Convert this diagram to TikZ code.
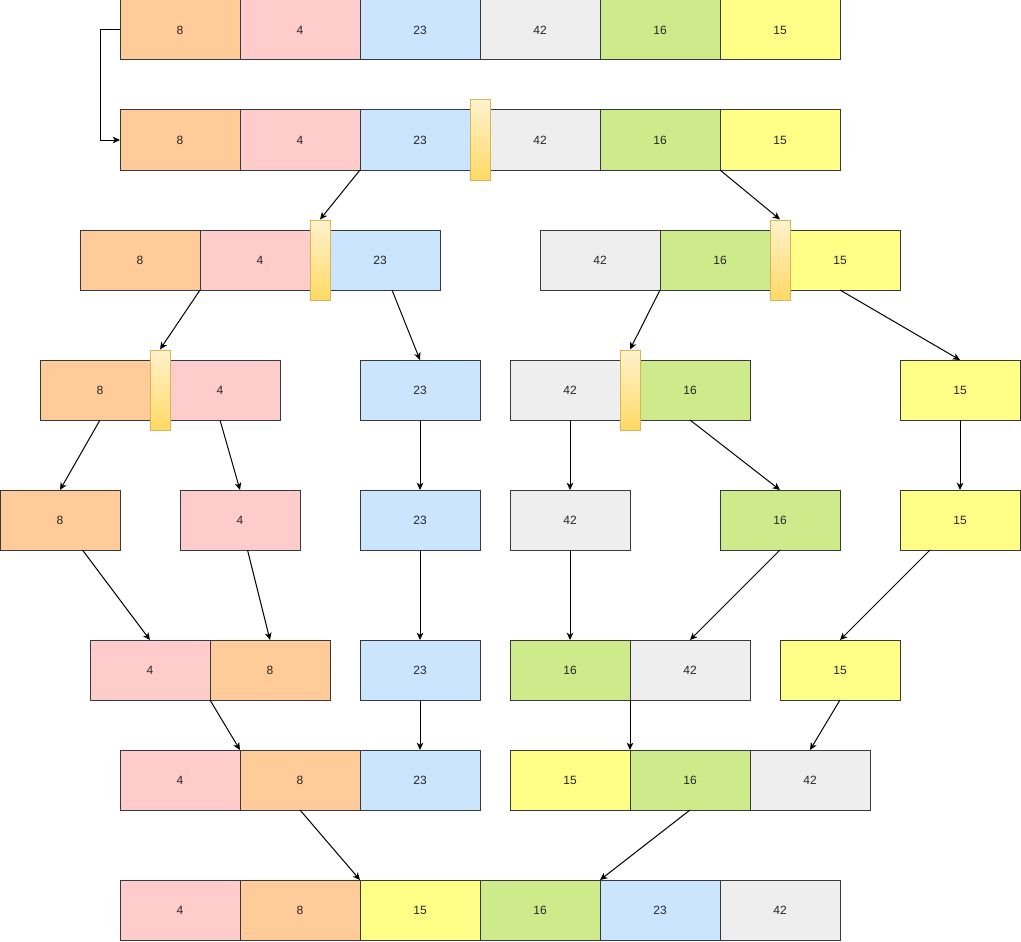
\documentclass[tikz,border=0pt]{standalone}
\usepackage{fontspec}
\setmainfont{Liberation Sans}
\usepackage{tikz}
\usetikzlibrary{positioning, arrows.meta}
\definecolor{col8}{HTML}{FFCC99}
\definecolor{col4}{HTML}{FFCCCC}
\definecolor{col23}{HTML}{CCE5FF}
\definecolor{col42}{HTML}{EEEEEE}
\definecolor{col16}{HTML}{CDEB8B}
\definecolor{col15}{HTML}{FFFF88}
\definecolor{cellline}{HTML}{36393D}
\tikzset{node distance=90pt, x=0.75pt, y=-0.75pt, >={Stealth[length=5.5pt,width=5pt,inset=1.6pt]},
  cell/.style={rectangle, draw=cellline, line width=0.75pt, outer sep=0pt, minimum width=90pt, minimum height=45pt, inner sep=0pt, font=\fontsize{9}{11}\selectfont, text=black!85},
  s8/.style={cell, fill=col8}, s4/.style={cell, fill=col4}, s23/.style={cell, fill=col23},
  s42/.style={cell, fill=col42}, s16/.style={cell, fill=col16}, s15/.style={cell, fill=col15},
  pivot/.style={rectangle, draw={rgb,255:red,214;green,182;blue,86}, line width=0.75pt, top color={rgb,255:red,255;green,242;blue,204}, bottom color={rgb,255:red,255;green,217;blue,102}, minimum width=15pt, minimum height=60pt, inner sep=0pt},
  every edge/.style={draw,->,line width=0.75pt}}

\begin{document}
\begin{tikzpicture}
            \useasboundingbox (0,0) rectangle (1021,942);
            % row 1
            \node[s8] (r1a) at (180,30) {8};
            \node[s4, right of=r1a] (r1b) {4};
            \node[s23, right of=r1b] (r1c) {23};
            \node[s42, right of=r1c] (r1d) {42};
            \node[s16, right of=r1d] (r1e) {16};
            \node[s15, right of=r1e] (r1f) {15};
            % row 2
            \node[s8] (r2a) at (180,140) {8};
            \node[s4, right of=r2a] (r2b) {4};
            \node[s23, right of=r2b] (r2c) {23};
            \node[s42, right of=r2c] (r2d) {42};
            \node[s16, right of=r2d] (r2e) {16};
            \node[s15, right of=r2e] (r2f) {15};
            \node[pivot] (dv2) at (r2c.east) {};
            % row 3
            \node[s8] (r3a) at (140,260) {8};
            \node[s4, right of=r3a] (r3b) {4};
            \node[s23, right of=r3b] (r3c) {23};
            \node[s42] (r3d) at (600,260) {42};
            \node[s16, right of=r3d] (r3e) {16};
            \node[s15, right of=r3e] (r3f) {15};
            \node[pivot] (dv3a) at (r3b.east) {};
            \node[pivot] (dv3b) at (r3e.east) {};
            % row 4
            \node[s8] (r4a) at (100,390) {8};
            \node[s4, right of=r4a] (r4b) {4};
            \node[s23] (r4c) at (420,390) {23};
            \node[s42] (r4d) at (570,390) {42};
            \node[s16, right of=r4d] (r4e) {16};
            \node[s15] (r4f) at (960,390) {15};
            \node[pivot] (dv4a) at (r4a.east) {};
            \node[pivot] (dv4b) at (r4d.east) {};
            % row 5
            \node[s8] (r5a) at (60,520) {8};
            \node[s4] (r5b) at (240,520) {4};
            \node[s23] (r5c) at (420,520) {23};
            \node[s42] (r5d) at (570,520) {42};
            \node[s16] (r5e) at (780,520) {16};
            \node[s15] (r5f) at (960,520) {15};
            % row 6
            \node[s4] (r6a) at (150,670) {4};
            \node[s8, right of=r6a] (r6b) {8};
            \node[s23] (r6c) at (420,670) {23};
            \node[s16] (r6d) at (570,670) {16};
            \node[s42, right of=r6d] (r6e) {42};
            \node[s15] (r6f) at (840,670) {15};
            % row 7
            \node[s4] (r7a) at (180,780) {4};
            \node[s8, right of=r7a] (r7b) {8};
            \node[s23, right of=r7b] (r7c) {23};
            \node[s15] (r7d) at (570,780) {15};
            \node[s16, right of=r7d] (r7e) {16};
            \node[s42, right of=r7e] (r7f) {42};
            % row 8
            \node[s4] (r8a) at (180,910) {4};
            \node[s8, right of=r8a] (r8b) {8};
            \node[s15, right of=r8b] (r8c) {15};
            \node[s16, right of=r8c] (r8d) {16};
            \node[s23, right of=r8d] (r8e) {23};
            \node[s42, right of=r8e] (r8f) {42};

            \draw[->, line width=0.75pt] (r1a.west) -- ++(-20,0) |- (r2a.west);
            \draw   (r2c.south west) edge (dv3a.north)
                    (r2e.south east) edge (dv3b.north)
                    (r3a.south east) edge (dv4a.north)
                    (r3c) edge (r4c.north)
                    (r3d.south east) edge (dv4b.north)
                    (r3f.south) edge (r4f.north)
                    (r4a.south) edge (r5a.north)
                    (r4b.south) edge (r5b.north)
                    (r4c) edge (r5c)
                    (r4d) edge (r5d)
                    (r4e.south) edge (r5e.north)
                    (r4f) edge (r5f)
                    (r5a) edge (r6a.north)
                    (r5b) edge (r6b.north)
                    (r5c) edge (r6c)
                    (r5d) edge (r6d)
                    (r5e.south) edge (r6e.north)
                    (r5f) edge (r6f.north)
                    (r6a.south east) edge (r7b.north west)
                    (r6c) edge (r7c)
                    (r6d.south east) edge (r7e.north west)
                    (r6f.south) edge (r7f.north)
                    (r7b.south) edge (r8c.north west)
                    (r7e.south) edge (r8e.north west);
        \end{tikzpicture}
\end{document}
